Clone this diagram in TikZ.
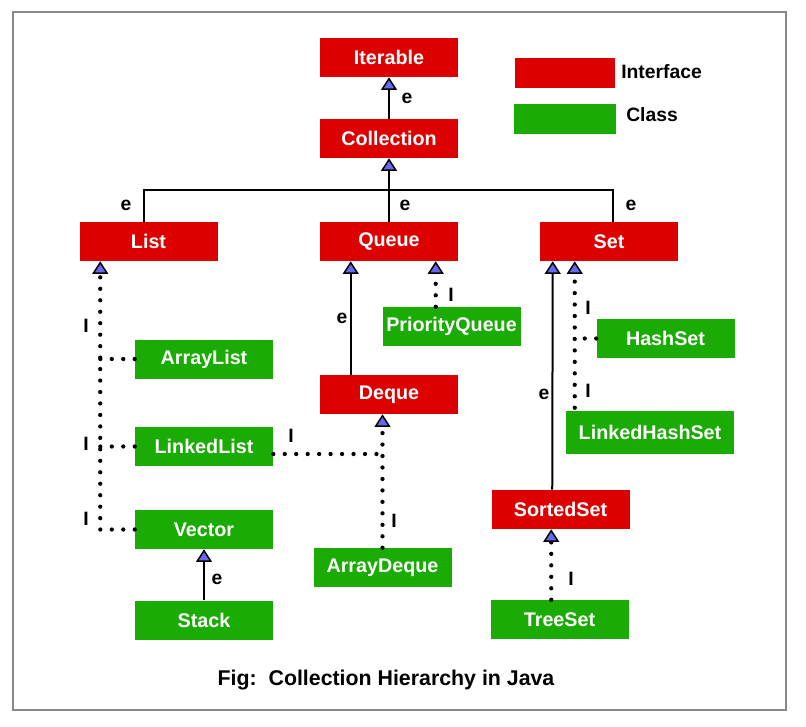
\documentclass[tikz,border=0pt]{standalone}
\usepackage{fontspec}
\setmainfont{Liberation Sans}
\usetikzlibrary{positioning}
\usetikzlibrary{arrows.meta, calc}
\definecolor{intfred}{RGB}{221,0,0}
\definecolor{clsgreen}{RGB}{26,171,4}
\definecolor{tipblue}{RGB}{104,104,238}
\definecolor{framegray}{RGB}{136,136,136}
\begin{document}
\begin{tikzpicture}[x=0.75pt, y=-0.75pt, font=\bfseries]%

            \tikzstyle{intf} = [ rectangle, fill = intfred, text = white, minimum width = 103.5pt, minimum height = 29.25pt, inner sep = 0pt, font = \fontsize{14.8}{17}\selectfont\bfseries]
            \tikzstyle{cls} = [ intf, fill = clsgreen]
            \tikzstyle{lbl} = [ inner sep = 0pt, font = \fontsize{14.5}{17}\selectfont\bfseries]
            \tikzstyle{ext} = [ line width = 1.5pt, -{Triangle[width = 12pt, length = 9.5pt, fill = tipblue, line width = 1.1pt]}]
            \tikzstyle{impl} = [ line width = 3.2pt, line cap = round, dash pattern = on 0pt off 8.6pt, -{Triangle[width = 12pt, length = 9.5pt, fill = tipblue, line width = 1.1pt]}]
            \tikzstyle{implbranch} = [ line width = 3.2pt, line cap = round, dash pattern = on 0pt off 8.6pt]
        %
            \useasboundingbox (0,0) rectangle (806,726);
            \draw[framegray, line width = 1.5pt] (13,12) rectangle (786,710);

                %% Interfaces
                \node [intf] (Iterable) at (389,57.5) {Iterable};
                \node [intf] (Collection) at (389,138.5) {Collection};
                \node [intf] (List) at (148.5,241.5) {List};
                \node [intf] (Queue) at (389,241.5) {Queue};
                \node [intf] (Set) at (609,241.5) {Set};
                \node [intf] (Deque) at (389,394.5) {Deque};
                \node [intf] (SortedSet) at (560.5,509.5) {SortedSet};

                %% Classes
                \node [cls] (ArrayList) at (204,359) {ArrayList};
                \node [cls] (LinkedList) at (204,446.5) {LinkedList};
                \node [cls] (Vector) at (204,529.5) {Vector};
                \node [cls] (Stack) at (204,620) {Stack};
                \node [cls] (PriorityQueue) at (451.5,326.5) {PriorityQueue};
                \node [cls] (ArrayDeque) at (382.5,567.5) {ArrayDeque};
                \node [cls] (HashSet) at (665.5,338.5) {HashSet};
                \node [cls, minimum width = 126pt, minimum height = 32.25pt] (LinkedHashSet) at (650,432.5) {LinkedHashSet};
                \node [cls] (TreeSet) at (559.5,619.5) {TreeSet};

                %% Legend
                \node [intf, minimum width = 75pt, minimum height = 22.5pt] (keyIntf) at (565,73) {};
                \node [cls, minimum width = 76.5pt, minimum height = 22.5pt] (keyCls) at (565,119) {};
                \node [lbl, anchor = west] (keyIntfText) at (621,72) {Interface};
                \node [lbl, anchor = west] (keyClsText) at (626,115) {Class};

                %% Extends
                \coordinate (bus) at (389,190);
                \draw[ext] (Collection.north) -- (Iterable.south);
                \draw[ext] (Queue.north) -- (Collection.south);
                \draw[line width = 1.5pt] ($(List.north west)+(65,0)$) |- (bus) -| ($(Set.north west)+(73,0)$);
                \draw[ext] (Stack.north) -- (Vector.south);
                \draw[ext] ($(Deque.north west)+(31,0)$) -- ($(Queue.south west)+(31,0)$);
                \draw[ext] ($(SortedSet.north west)+(61,0)$) -- ($(Set.south west)+(13,0)$);

                %% Implements
                \coordinate (lstem) at ($(List.south west)+(21,0)$);
                \draw[impl] (Vector.west) -| (lstem);
                \draw[implbranch] (ArrayList.west) -- (ArrayList.west -| lstem);
                \draw[implbranch] (LinkedList.west) -- (LinkedList.west -| lstem);
                \coordinate (pq) at ($(Queue.south west)+(116,0)$);
                \draw[impl] (PriorityQueue.north -| pq) -- (pq);
                \draw[impl] (ArrayDeque.north) -- (ArrayDeque.north |- Deque.south);
                \coordinate (ldq) at ($(LinkedList.east)+(0,7.5)$);
                \draw[implbranch] (ldq) -- (ldq -| ArrayDeque.north);
                \coordinate (hs) at ($(Set.south west)+(35,0)$);
                \draw[impl] ($(LinkedHashSet.north -| hs)+(0,-3)$) -- (hs);
                \draw[implbranch] (HashSet.west) -- (HashSet.west -| hs);
                \draw[impl] ($(TreeSet.north west)+(61,0)$) -- ($(SortedSet.south west)+(60,0)$);

                %% Edge labels
                \node [lbl] (e1) at (407,98) {e};
                \node [lbl] (e2) at (126,205) {e};
                \node [lbl] (e3) at (405,205) {e};
                \node [lbl] (e4) at (631,205) {e};
                \node [lbl] (e5) at (342,318) {e};
                \node [lbl] (e6) at (544,394) {e};
                \node [lbl] (e7) at (217,579) {e};
                \node [lbl] (i1) at (86,326) {I};
                \node [lbl] (i2) at (86,444) {I};
                \node [lbl] (i3) at (86,519) {I};
                \node [lbl] (i4) at (451,295) {I};
                \node [lbl] (i5) at (291,436) {I};
                \node [lbl] (i6) at (394,521) {I};
                \node [lbl] (i7) at (588,308) {I};
                \node [lbl] (i8) at (588,391) {I};
                \node [lbl] (i9) at (571,579) {I};

                %% Caption
                \node [font = \fontsize{16}{19}\selectfont\bfseries] (caption) at (386,680) {Fig:\ \ Collection Hierarchy in Java};

        \end{tikzpicture}
\end{document}
